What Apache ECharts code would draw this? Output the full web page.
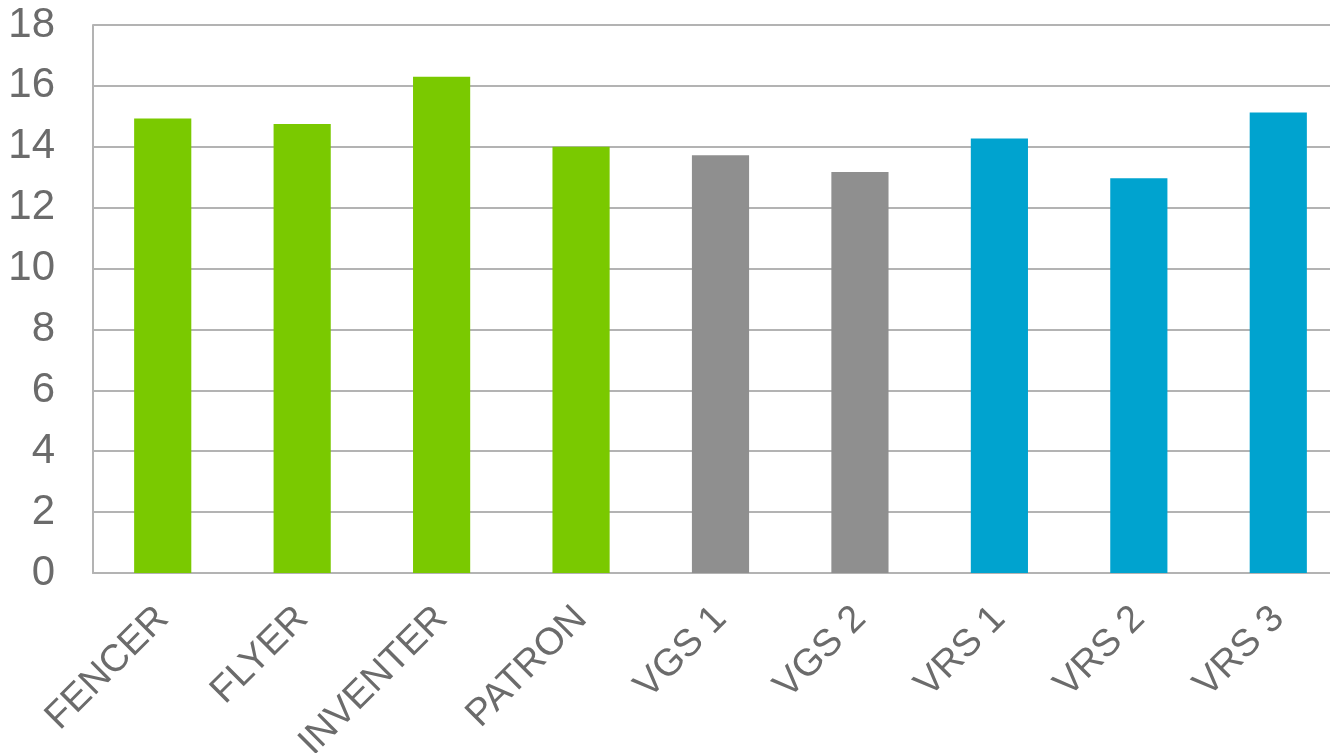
<!DOCTYPE html>
<html><head><meta charset="utf-8">
<script src="https://cdn.jsdelivr.net/npm/echarts@6/dist/echarts.min.js"></script>
<style>html,body{margin:0;padding:0;background:#fff}#c{width:1330px;height:753px}</style>
</head><body><div id="c"></div>
<script>
const categories = ["FENCER","FLYER","INVENTER","PATRON","VGS 1","VGS 2","VRS 1","VRS 2","VRS 3"];
const values = [14.93, 14.75, 16.3, 14.0, 13.72, 13.17, 14.27, 12.97, 15.13];
const barColors = ["#7AC900","#7AC900","#7AC900","#7AC900","#8F8F8F","#8F8F8F","#00A3CF","#00A3CF","#00A3CF"];
const yTicks = [0,2,4,6,8,10,12,14,16,18];

const chart = echarts.init(document.getElementById('c'), null, {renderer:'canvas'});
chart.setOption({
  animation:false,
  grid:{left:93,right:-18,top:25,bottom:180,containLabel:false,outerBoundsMode:'none'},
  xAxis:{type:'category',data:categories,
    axisLine:{lineStyle:{color:'#B3B3B3',width:2}},
    axisTick:{show:false},
    axisLabel:{rotate:45,margin:40,color:'#6B6B6B',fontSize:38,fontFamily:'Liberation Sans, Arial, sans-serif',interval:0}
  },
  yAxis:{type:'value',min:yTicks[0],max:yTicks[yTicks.length-1],interval:2,
    axisLine:{show:true,lineStyle:{color:'#B3B3B3',width:2}},
    axisTick:{show:false},
    splitLine:{lineStyle:{color:'#B3B3B3',width:2}},
    axisLabel:{margin:38,color:'#6B6B6B',fontSize:42,padding:[6,0,0,0],fontFamily:'Liberation Sans, Arial, sans-serif'}
  },
  series:[{type:'bar',barWidth:'41%',
    data:values.map((v,i)=>({value:v,itemStyle:{color:barColors[i]}}))
  }]
});
</script></body></html>
